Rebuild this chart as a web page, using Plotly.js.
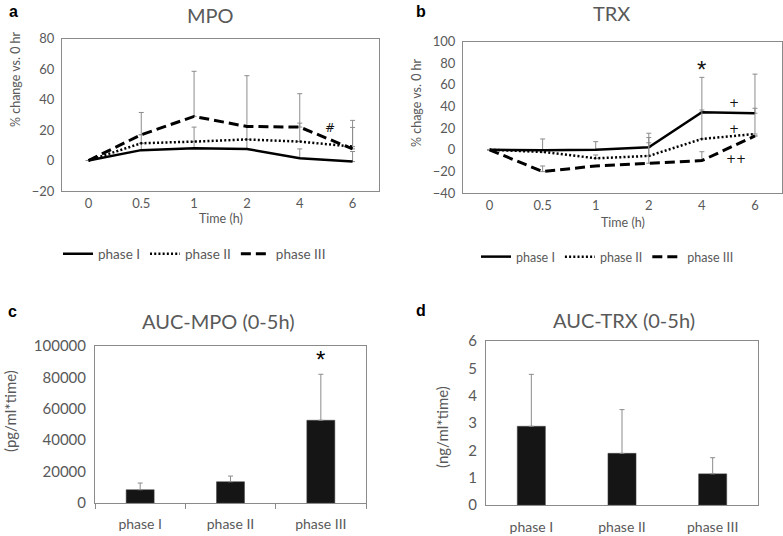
<!DOCTYPE html>
<html><head><meta charset="utf-8">
<script src="https://cdn.plot.ly/plotly-3.0.1.min.js"></script>
<style>html,body{margin:0;padding:0;background:#fff}#chart{width:783px;height:536px}</style>
</head><body><div id="chart"></div>
<script>
// ---------- data ----------
const timeLabels = ["0", "0.5", "1", "2", "4", "6"];
const seriesNames = ["phase I", "phase II", "phase III"];

// panel a: MPO % change vs 0 hr
const mpoPhase1 = [0, 6.8, 8.1, 7.6, 1.5, -0.7];
const mpoPhase2 = [0, 11.3, 12.4, 13.8, 12.4, 9.1];
const mpoPhase3 = [0, 16.9, 28.9, 22.3, 21.9, 7.6];
const mpoErr1 = [null, 24.7, 13.8, 48.0, 6.1, 6.6];
const mpoErr2 = [null, null, null, null, 12.1, 12.6];
const mpoErr3 = [null, null, 29.6, null, 21.9, 18.7];

// panel b: TRX % change vs 0 hr
const trxPhase1 = [0, -0.5, 0, 2.3, 34.7, 33.8];
const trxPhase2 = [0, -2.0, -7.9, -5.7, 10.0, 14.6];
const trxPhase3 = [0, -20.2, -15.0, -12.5, -10.0, 12.8];
const trxErr1 = [null, 10.5, 7.5, 13.0, 32.3, 36.2];
const trxErr2 = [null, null, 3.1, 17.0, 26.8, 23.8];
const trxErr3 = [null, 5.2, null, 19.0, 8.2, null];

// panels c, d: AUC (0-5h)
const aucCats = ["phase I", "phase II", "phase III"];
const aucMpo = [8450, 13550, 52700];
const aucMpoErr = [4250, 3600, 29300];
const aucTrx = [2.88, 1.89, 1.14];
const aucTrxErr = [1.90, 1.60, 0.59];

// significance marks
const markA = {text: "#", x: 4.58, y: 21.5};
const marksB = [
  {text: "*", x: 4, y: 74},
  {text: "+", x: 4.6, y: 43},
  {text: "+", x: 4.6, y: 19},
  {text: "++", x: 4.65, y: -8.8}
];
const markC = {text: "*", x: 2, y: 91500};

// ---------- layout helpers ----------
const W = 783, H = 536;
const X = p => p / W;
const Y = p => 1 - p / H;
const GRAY = "#595959";
const FRAME = "#8a8a8a";
const FONT = "Lato, 'Open Sans', sans-serif";
const ERRC = "#8c8c8c";

const lineStyles = [
  {color: "#000", width: 2.5, dash: "solid"},
  {color: "#000", width: 2.5, dash: "2px,2.2px"},
  {color: "#000", width: 3, dash: "10px,5px"}
];

function errObj(arr) {
  return {type: "data", array: arr, arrayminus: arr.map(() => 0), symmetric: false,
          color: ERRC, thickness: 1, width: 2.5};
}

const traces = [];
const mpoSeries = [mpoPhase1, mpoPhase2, mpoPhase3];
const mpoErrs = [mpoErr1, mpoErr2, mpoErr3];
const trxSeries = [trxPhase1, trxPhase2, trxPhase3];
const trxErrs = [trxErr1, trxErr2, trxErr3];

mpoSeries.forEach((s, i) => traces.push({
  type: "scatter", mode: "lines", x: timeLabels, y: s, name: seriesNames[i],
  line: lineStyles[i], error_y: errObj(mpoErrs[i]), xaxis: "x", yaxis: "y",
  legend: "legend", showlegend: true, hoverinfo: "skip"
}));
trxSeries.forEach((s, i) => traces.push({
  type: "scatter", mode: "lines", x: timeLabels, y: s, name: seriesNames[i],
  line: lineStyles[i], error_y: errObj(trxErrs[i]), xaxis: "x2", yaxis: "y2",
  legend: "legend2", showlegend: true, hoverinfo: "skip"
}));
traces.push({
  type: "bar", x: aucCats, y: aucMpo, width: 0.31, xaxis: "x3", yaxis: "y3",
  marker: {color: "#151515", line: {color: "#444", width: 0.5}},
  error_y: errObj(aucMpoErr), showlegend: false, hoverinfo: "skip"
});
traces.push({
  type: "bar", x: aucCats, y: aucTrx, width: 0.31, xaxis: "x4", yaxis: "y4",
  marker: {color: "#151515", line: {color: "#444", width: 0.5}},
  error_y: errObj(aucTrxErr), showlegend: false, hoverinfo: "skip"
});

function xax(domain, anchor, extra) {
  return Object.assign({
    domain: domain, anchor: anchor, type: "category", showgrid: false, zeroline: false,
    showline: true, linecolor: FRAME, linewidth: 1, mirror: true,
    ticks: "", ticklen: 0,
    tickfont: {family: FONT, size: 13, color: GRAY}, fixedrange: true
  }, extra || {});
}
function yax(domain, anchor, range, dtick, extra) {
  return Object.assign({
    domain: domain, anchor: anchor, range: range, dtick: dtick, tick0: 0,
    showgrid: false, zeroline: false, showline: true, linecolor: FRAME, linewidth: 1, mirror: true,
    ticks: "", ticklen: 0, tickformat: "d",
    tickfont: {family: FONT, size: 13, color: GRAY}, fixedrange: true
  }, extra || {});
}

const txt = (text, x, y, size, extra) => Object.assign({
  text: text, xref: "paper", yref: "paper", x: X(x), y: Y(y), showarrow: false,
  xanchor: "center", yanchor: "middle", font: {family: FONT, size: size, color: GRAY}
}, extra || {});

const letterFont = {family: "Liberation Sans, Arial", size: 16, color: "#000"};
const markFont = {family: "DejaVu Sans, sans-serif", size: 12, color: "#111"};
const annotations = [
  // panel letters
  txt("<b>a</b>", 13, 12, 16, {font: letterFont}),
  txt("<b>b</b>", 421, 12, 16, {font: letterFont}),
  txt("<b>c</b>", 12, 311, 16, {font: letterFont}),
  txt("<b>d</b>", 421, 310, 16, {font: letterFont}),
  // titles
  txt("MPO", 210, 15, 20),
  txt("TRX", 611, 13, 20),
  txt("AUC-MPO (0-5h)", 219, 321, 20),
  txt("AUC-TRX (0-5h)", 624, 320, 20),
  // axis titles
  txt("% change vs. 0 hr", 16, 79, 12.5, {textangle: -90}),
  txt("% chage vs. 0 hr", 417, 103, 12.5, {textangle: -90}),
  txt("Time (h)", 221, 219, 12.5),
  txt("Time (h)", 623, 222, 12.5),
  txt("(pg/ml*time)", 10, 411, 15, {textangle: -90}),
  txt("(ng/ml*time)", 442, 427, 15, {textangle: -90}),
  // significance marks
  {text: markA.text, x: markA.x, y: markA.y, xref: "x", yref: "y", showarrow: false, font: markFont},
  ...marksB.map(m => ({text: m.text, x: m.x, y: m.y, xref: "x2", yref: "y2", showarrow: false,
   font: m.text === "*" ? {family: "Liberation Sans, Arial", size: 24, color: "#111"} : markFont})),
  {text: markC.text, x: markC.x, y: markC.y, xref: "x3", yref: "y3", showarrow: false,
   font: {family: "Liberation Sans, Arial", size: 24, color: "#000"}}
];

const layout = {
  width: W, height: H, margin: {l: 0, r: 0, t: 0, b: 0},
  paper_bgcolor: "#fff", plot_bgcolor: "#fff",
  font: {family: FONT, color: GRAY},
  xaxis: xax([X(62), X(379)], "y", {range: [-0.5, 5.5]}),
  yaxis: yax([Y(191), Y(38.5)], "x", [-20, 80], 20, {ticklabelstandoff: 4}),
  xaxis2: xax([X(463), X(781.5)], "y2", {range: [-0.5, 5.5]}),
  yaxis2: yax([Y(193), Y(41.7)], "x2", [-40, 100], 20, {ticklabelstandoff: 4}),
  xaxis3: xax([X(95), X(366)], "y3", {range: [-0.5, 2.5], tickson: "boundaries",
    ticks: "outside", ticklen: 5, tickcolor: FRAME, ticklabelstandoff: 8,
    tickfont: {family: FONT, size: 14, color: GRAY}}),
  yaxis3: yax([Y(503), Y(346)], "x3", [0, 100000], 20000, {ticklabelstandoff: 5,
    tickfont: {family: FONT, size: 15, color: GRAY}}),
  xaxis4: xax([X(486), X(758)], "y4", {range: [-0.5, 2.5],
    ticklabelstandoff: 9, tickfont: {family: FONT, size: 14, color: GRAY}}),
  yaxis4: yax([Y(505), Y(341)], "x4", [0, 6], 1, {ticklabelstandoff: 5,
    tickfont: {family: FONT, size: 15, color: GRAY}}),
  legend: {orientation: "h", x: X(58), xanchor: "left", y: Y(254), yanchor: "middle",
    font: {family: FONT, size: 13.5, color: GRAY}, bgcolor: "rgba(0,0,0,0)", itemwidth: 30},
  legend2: {orientation: "h", x: X(476), xanchor: "left", y: Y(257), yanchor: "middle",
    font: {family: FONT, size: 12.5, color: GRAY}, bgcolor: "rgba(0,0,0,0)", itemwidth: 30},
  annotations: annotations,
  bargap: 0.6
};

Plotly.newPlot("chart", traces, layout, {staticPlot: true, displayModeBar: false});
</script>
</body></html>
